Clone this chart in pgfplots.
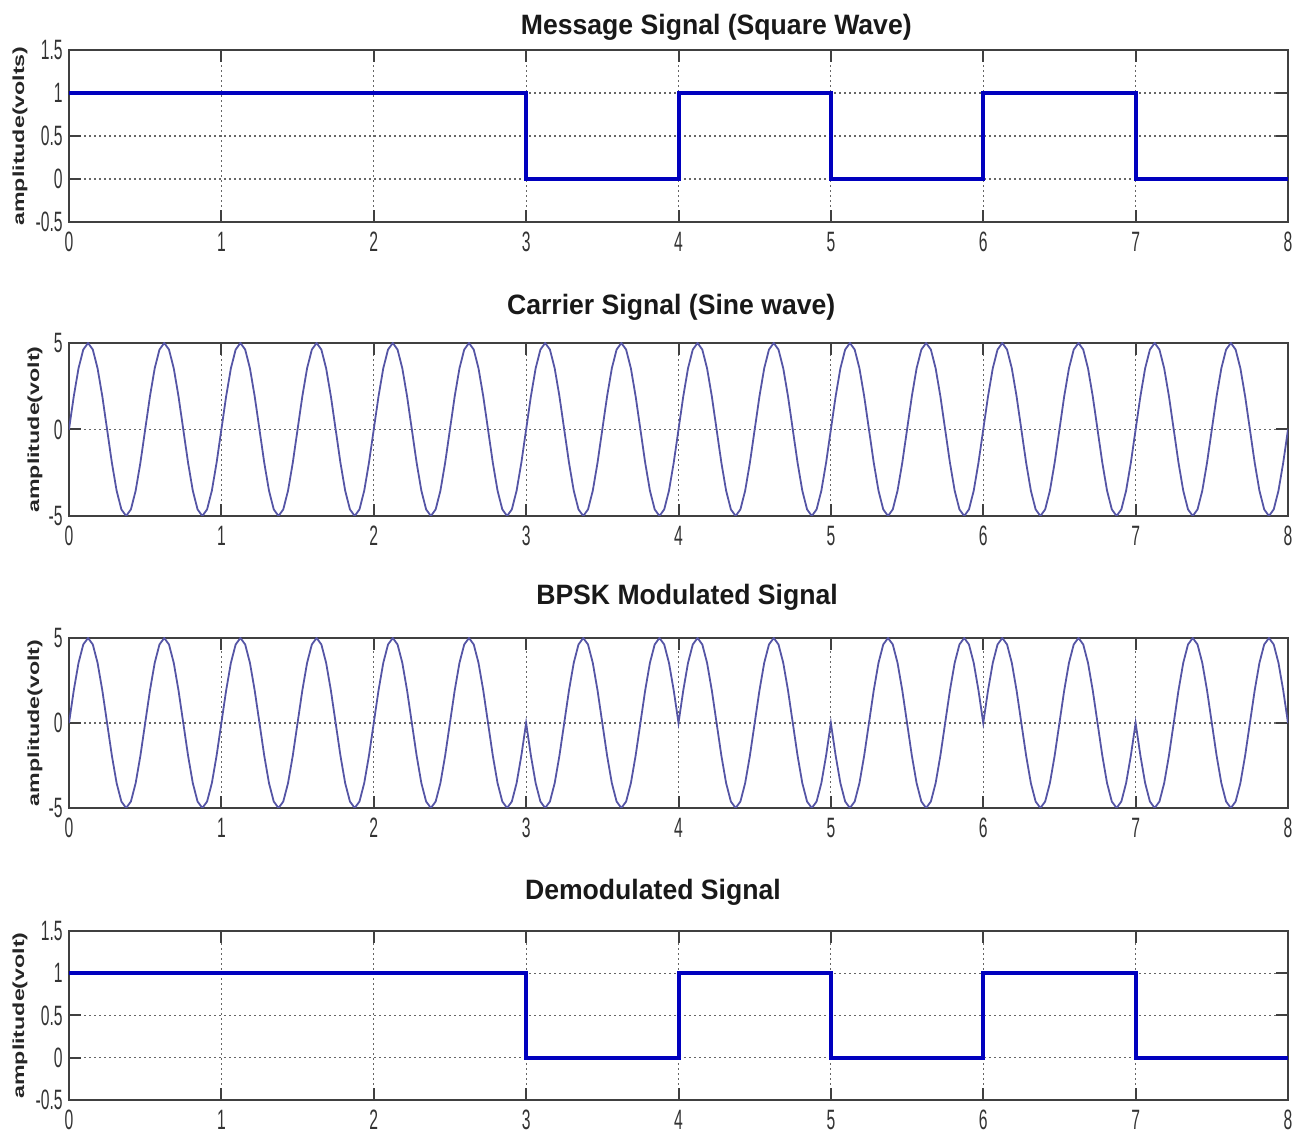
\documentclass[border=0pt]{standalone}
\usepackage{pgfplots}
\usepackage{pgfplotstable}
\pgfplotsset{compat=1.18}
\usepackage{fontspec}
\setmainfont{Liberation Sans}
\newfontfamily\titlefont[FakeStretch=0.95]{Liberation Sans}
\newfontfamily\tickfont[FakeStretch=0.56]{Liberation Sans}
\newfontfamily\labfont[FakeStretch=1.45]{Liberation Sans}
\definecolor{sqblue}{RGB}{0,0,190}
\definecolor{sinblue}{RGB}{85,85,165}

\pgfplotstableread{
t c b
0 0 0
0.03125 1.913 1.913
0.0625 3.536 3.536
0.09375 4.619 4.619
0.125 5 5
0.15625 4.619 4.619
0.1875 3.536 3.536
0.21875 1.913 1.913
0.25 0 0
0.28125 -1.913 -1.913
0.3125 -3.536 -3.536
0.34375 -4.619 -4.619
0.375 -5 -5
0.40625 -4.619 -4.619
0.4375 -3.536 -3.536
0.46875 -1.913 -1.913
0.5 0 0
0.53125 1.913 1.913
0.5625 3.536 3.536
0.59375 4.619 4.619
0.625 5 5
0.65625 4.619 4.619
0.6875 3.536 3.536
0.71875 1.913 1.913
0.75 0 0
0.78125 -1.913 -1.913
0.8125 -3.536 -3.536
0.84375 -4.619 -4.619
0.875 -5 -5
0.90625 -4.619 -4.619
0.9375 -3.536 -3.536
0.96875 -1.913 -1.913
1 0 0
1.03125 1.913 1.913
1.0625 3.536 3.536
1.09375 4.619 4.619
1.125 5 5
1.15625 4.619 4.619
1.1875 3.536 3.536
1.21875 1.913 1.913
1.25 0 0
1.28125 -1.913 -1.913
1.3125 -3.536 -3.536
1.34375 -4.619 -4.619
1.375 -5 -5
1.40625 -4.619 -4.619
1.4375 -3.536 -3.536
1.46875 -1.913 -1.913
1.5 0 0
1.53125 1.913 1.913
1.5625 3.536 3.536
1.59375 4.619 4.619
1.625 5 5
1.65625 4.619 4.619
1.6875 3.536 3.536
1.71875 1.913 1.913
1.75 0 0
1.78125 -1.913 -1.913
1.8125 -3.536 -3.536
1.84375 -4.619 -4.619
1.875 -5 -5
1.90625 -4.619 -4.619
1.9375 -3.536 -3.536
1.96875 -1.913 -1.913
2 0 0
2.03125 1.913 1.913
2.0625 3.536 3.536
2.09375 4.619 4.619
2.125 5 5
2.15625 4.619 4.619
2.1875 3.536 3.536
2.21875 1.913 1.913
2.25 0 0
2.28125 -1.913 -1.913
2.3125 -3.536 -3.536
2.34375 -4.619 -4.619
2.375 -5 -5
2.40625 -4.619 -4.619
2.4375 -3.536 -3.536
2.46875 -1.913 -1.913
2.5 0 0
2.53125 1.913 1.913
2.5625 3.536 3.536
2.59375 4.619 4.619
2.625 5 5
2.65625 4.619 4.619
2.6875 3.536 3.536
2.71875 1.913 1.913
2.75 0 0
2.78125 -1.913 -1.913
2.8125 -3.536 -3.536
2.84375 -4.619 -4.619
2.875 -5 -5
2.90625 -4.619 -4.619
2.9375 -3.536 -3.536
2.96875 -1.913 -1.913
3 0 0
3.03125 1.913 -1.913
3.0625 3.536 -3.536
3.09375 4.619 -4.619
3.125 5 -5
3.15625 4.619 -4.619
3.1875 3.536 -3.536
3.21875 1.913 -1.913
3.25 0 0
3.28125 -1.913 1.913
3.3125 -3.536 3.536
3.34375 -4.619 4.619
3.375 -5 5
3.40625 -4.619 4.619
3.4375 -3.536 3.536
3.46875 -1.913 1.913
3.5 0 0
3.53125 1.913 -1.913
3.5625 3.536 -3.536
3.59375 4.619 -4.619
3.625 5 -5
3.65625 4.619 -4.619
3.6875 3.536 -3.536
3.71875 1.913 -1.913
3.75 0 0
3.78125 -1.913 1.913
3.8125 -3.536 3.536
3.84375 -4.619 4.619
3.875 -5 5
3.90625 -4.619 4.619
3.9375 -3.536 3.536
3.96875 -1.913 1.913
4 0 0
4.03125 1.913 1.913
4.0625 3.536 3.536
4.09375 4.619 4.619
4.125 5 5
4.15625 4.619 4.619
4.1875 3.536 3.536
4.21875 1.913 1.913
4.25 0 0
4.28125 -1.913 -1.913
4.3125 -3.536 -3.536
4.34375 -4.619 -4.619
4.375 -5 -5
4.40625 -4.619 -4.619
4.4375 -3.536 -3.536
4.46875 -1.913 -1.913
4.5 0 0
4.53125 1.913 1.913
4.5625 3.536 3.536
4.59375 4.619 4.619
4.625 5 5
4.65625 4.619 4.619
4.6875 3.536 3.536
4.71875 1.913 1.913
4.75 0 0
4.78125 -1.913 -1.913
4.8125 -3.536 -3.536
4.84375 -4.619 -4.619
4.875 -5 -5
4.90625 -4.619 -4.619
4.9375 -3.536 -3.536
4.96875 -1.913 -1.913
5 0 0
5.03125 1.913 -1.913
5.0625 3.536 -3.536
5.09375 4.619 -4.619
5.125 5 -5
5.15625 4.619 -4.619
5.1875 3.536 -3.536
5.21875 1.913 -1.913
5.25 0 0
5.28125 -1.913 1.913
5.3125 -3.536 3.536
5.34375 -4.619 4.619
5.375 -5 5
5.40625 -4.619 4.619
5.4375 -3.536 3.536
5.46875 -1.913 1.913
5.5 0 0
5.53125 1.913 -1.913
5.5625 3.536 -3.536
5.59375 4.619 -4.619
5.625 5 -5
5.65625 4.619 -4.619
5.6875 3.536 -3.536
5.71875 1.913 -1.913
5.75 0 0
5.78125 -1.913 1.913
5.8125 -3.536 3.536
5.84375 -4.619 4.619
5.875 -5 5
5.90625 -4.619 4.619
5.9375 -3.536 3.536
5.96875 -1.913 1.913
6 0 0
6.03125 1.913 1.913
6.0625 3.536 3.536
6.09375 4.619 4.619
6.125 5 5
6.15625 4.619 4.619
6.1875 3.536 3.536
6.21875 1.913 1.913
6.25 0 0
6.28125 -1.913 -1.913
6.3125 -3.536 -3.536
6.34375 -4.619 -4.619
6.375 -5 -5
6.40625 -4.619 -4.619
6.4375 -3.536 -3.536
6.46875 -1.913 -1.913
6.5 0 0
6.53125 1.913 1.913
6.5625 3.536 3.536
6.59375 4.619 4.619
6.625 5 5
6.65625 4.619 4.619
6.6875 3.536 3.536
6.71875 1.913 1.913
6.75 0 0
6.78125 -1.913 -1.913
6.8125 -3.536 -3.536
6.84375 -4.619 -4.619
6.875 -5 -5
6.90625 -4.619 -4.619
6.9375 -3.536 -3.536
6.96875 -1.913 -1.913
7 0 0
7.03125 1.913 -1.913
7.0625 3.536 -3.536
7.09375 4.619 -4.619
7.125 5 -5
7.15625 4.619 -4.619
7.1875 3.536 -3.536
7.21875 1.913 -1.913
7.25 0 0
7.28125 -1.913 1.913
7.3125 -3.536 3.536
7.34375 -4.619 4.619
7.375 -5 5
7.40625 -4.619 4.619
7.4375 -3.536 3.536
7.46875 -1.913 1.913
7.5 0 0
7.53125 1.913 -1.913
7.5625 3.536 -3.536
7.59375 4.619 -4.619
7.625 5 -5
7.65625 4.619 -4.619
7.6875 3.536 -3.536
7.71875 1.913 -1.913
7.75 0 0
7.78125 -1.913 1.913
7.8125 -3.536 3.536
7.84375 -4.619 4.619
7.875 -5 5
7.90625 -4.619 4.619
7.9375 -3.536 3.536
7.96875 -1.913 1.913
8 0 0
}\sig

\pgfplotsset{
  mlab/.style={
    scale only axis, width=609.5pt,
    xmin=0, xmax=8, xtick={0,1,2,3,4,5,6,7,8},
    xticklabels={0,1,2,3,4,5,6,7,8},
    grid=major,
    major grid style={black!60, line width=0.6pt, dash pattern=on 1pt off 1.5pt},
    axis line style={black!75, line width=1pt},
    tick align=inside, major tick length=6pt,
    tick style={black!75, line width=1pt},
    ticklabel style={font=\tickfont\fontsize{14}{14}\selectfont, text=black!80},
    yticklabel style={inner sep=0pt, xshift=-3pt},
    xticklabel style={inner sep=0pt, yshift=-5pt},
    every axis title shift=0pt,
    title style={font=\titlefont\bfseries\fontsize{14}{14}\selectfont, anchor=base, text=black!90},
    ylabel style={font=\labfont\bfseries\fontsize{8}{8}\selectfont, anchor=center, text=black!85},
  },
  sq/.style={ymin=-0.5, ymax=1.5, ytick={-0.5,0,0.5,1,1.5}, yticklabels={-0.5,0,0.5,1,1.5}},
  sn/.style={ymin=-5, ymax=5, ytick={-5,0,5}, yticklabels={-5,0,5}},
}

\begin{document}
\begin{tikzpicture}
\useasboundingbox (0,0) rectangle (650.5pt,567.5pt);

\begin{axis}[mlab, sq, height=86pt, at={(34.5pt,456.5pt)}, anchor=south west,
  title={Message Signal (Square Wave)},
  title style={at={(axis description cs:0.531,1)}, yshift=7.5pt},
  ylabel={amplitude(volts)},
  ylabel style={at={(axis description cs:-0.0402,0.5)}}]
\addplot[sqblue, line width=2pt] coordinates {(0,1)(3,1)(3,0)(4,0)(4,1)(5,1)(5,0)(6,0)(6,1)(7,1)(7,0)(8,0)};
\end{axis}

\begin{axis}[mlab, sn, height=86.5pt, at={(34.5pt,309.5pt)}, anchor=south west,
  title={Carrier Signal (Sine wave)},
  title style={at={(axis description cs:0.494,1)}, yshift=14pt},
  ylabel={amplitude(volt)},
  ylabel style={at={(axis description cs:-0.0279,0.5)}}]
\addplot[sinblue, line width=0.9pt] table[x=t, y=c] {\sig};
\end{axis}

\begin{axis}[mlab, sn, height=85pt, at={(34.5pt,163.5pt)}, anchor=south west,
  title={BPSK Modulated Signal},
  title style={at={(axis description cs:0.507,1)}, yshift=16.5pt},
  ylabel={amplitude(volt)},
  ylabel style={at={(axis description cs:-0.0279,0.5)}}]
\addplot[sinblue, line width=0.9pt] table[x=t, y=b] {\sig};
\end{axis}

\begin{axis}[mlab, sq, height=84.5pt, at={(34.5pt,17.5pt)}, anchor=south west,
  title={Demodulated Signal},
  title style={at={(axis description cs:0.479,1)}, yshift=15.5pt},
  ylabel={amplitude(volt)},
  ylabel style={at={(axis description cs:-0.0402,0.5)}}]
\addplot[sqblue, line width=2pt] coordinates {(0,1)(3,1)(3,0)(4,0)(4,1)(5,1)(5,0)(6,0)(6,1)(7,1)(7,0)(8,0)};
\end{axis}
\end{tikzpicture}
\end{document}
